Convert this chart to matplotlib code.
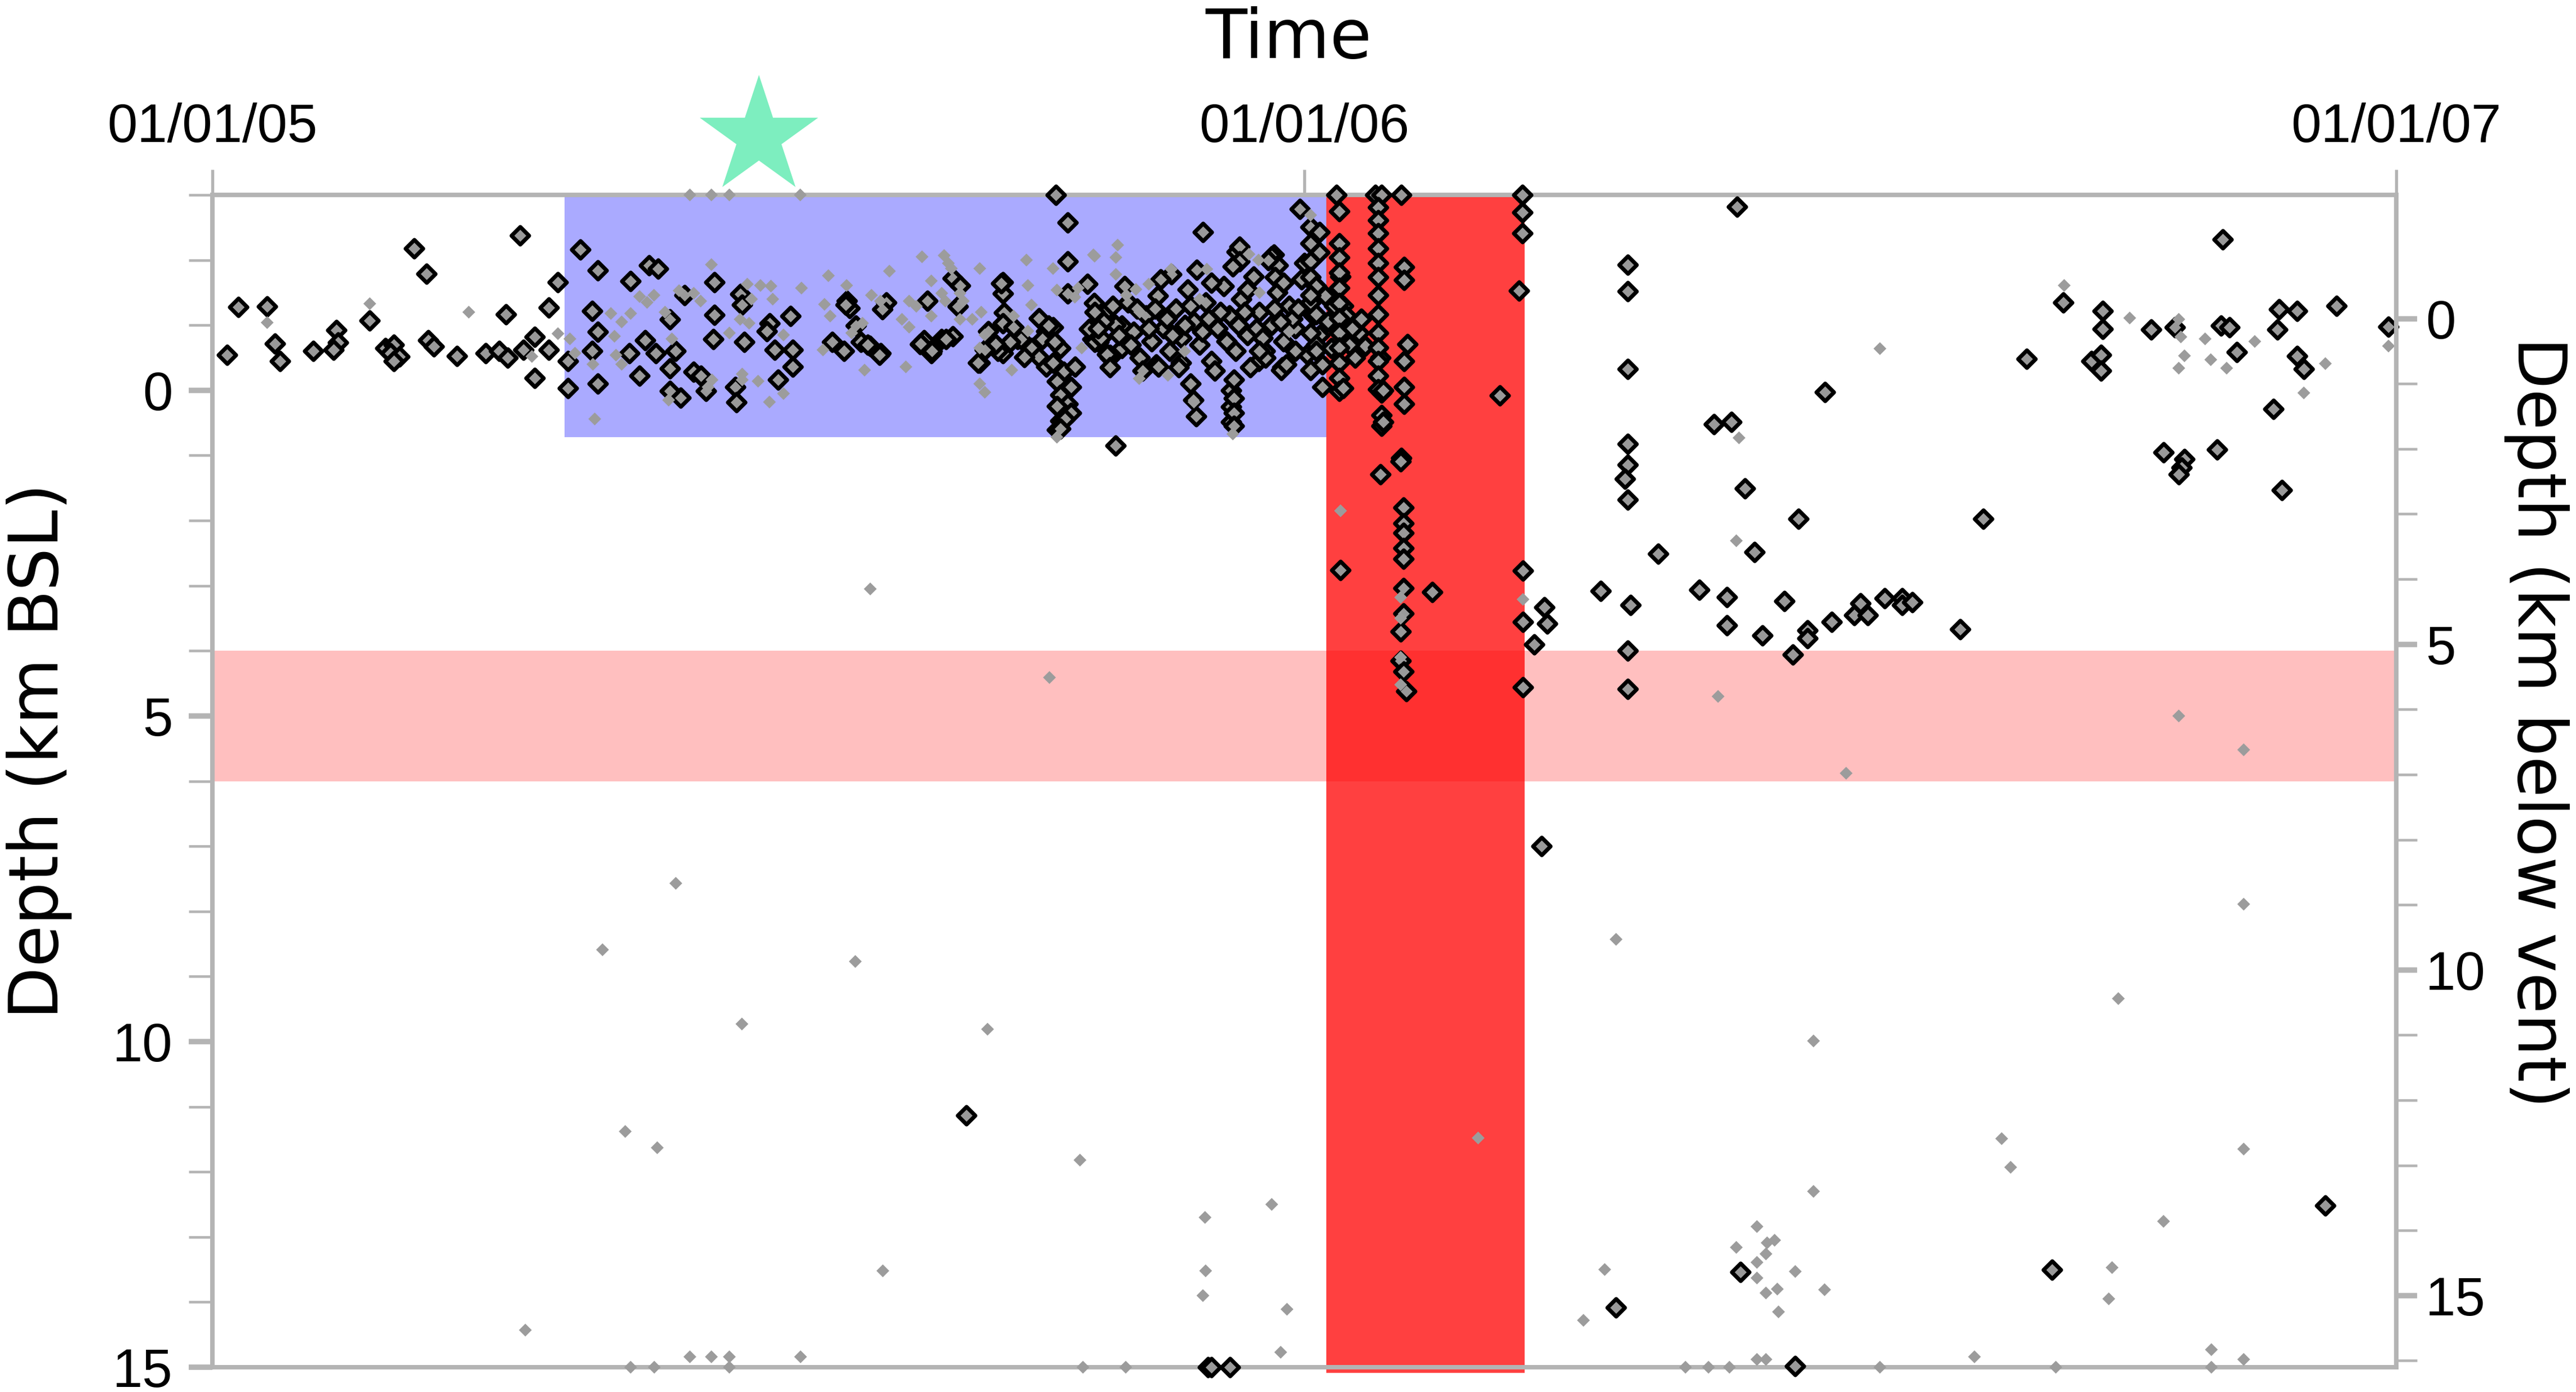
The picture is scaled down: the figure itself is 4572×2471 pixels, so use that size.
import numpy as np
import matplotlib
matplotlib.use("Agg")
import matplotlib.pyplot as plt
from matplotlib.ticker import FixedLocator, NullLocator

# ---------------- data (days since 01/01/05, depth km BSL) ----------------
START = np.datetime64("2005-01-01T00:00")
X_END_DAYS = 730
VENT_OFFSET = 1.1          # km: depth below vent = depth BSL + offset
TIME_TICKS = ["2005-01-01", "2006-01-01", "2007-01-01"]
TIME_TICK_LABELS = ["01/01/05", "01/01/06", "01/01/07"]
DEPTH_TICKS = [0, 5, 10, 15]
VENT_TICKS = [0, 5, 10, 15]

blue_period = (117.8, 372.4)     # days
blue_depth = (-3.0, 0.72)
red_period = (372.4, 438.7)      # days
red_depth = (-3.0, 15.09)
pink_depth = (4.0, 6.0)
star_event = (182.7, -3.89)

large_pre = [(4.9,-0.54),(8.7,-1.28),(18.3,-1.29),(20.9,-0.72),(22.6,-0.45),(33.7,-0.60),
    (41.5,-0.92),(42.0,-0.73),(40.5,-0.62),(52.6,-1.07),(67.4,-2.18),(71.6,-1.79),(57.8,-0.65),
    (60.7,-0.70),(59.5,-0.57),(62.6,-0.52),(60.7,-0.45),(72.2,-0.77),(74.1,-0.67),(81.8,-0.53),
    (91.4,-0.57),(95.9,-0.60),(98.6,-0.50),(98.2,-1.17),(102.9,-2.38),(104.0,-0.62),(107.8,-0.82),
    (107.8,-0.19),(112.5,-1.27),(112.5,-0.62),(115.5,-1.66)]

large_blue = [(118.9,-0.03),(118.9,-0.45),(122.9,-2.16),(128.9,-1.84),(127.0,-1.22),(128.9,-0.90),
    (127.0,-0.60),(128.9,-0.10),(139.8,-1.68),(145.9,-1.92),(148.9,-1.87),(157.9,-1.46),(167.9,-1.66),
    (167.9,-1.16),(153.0,-1.09),(144.7,-0.77),(139.3,-0.57),(142.8,-0.22),(153.0,-0.34),(156.6,0.11),
    (153.0,0.01),(160.9,-0.28),(163.2,-0.22),(165.0,0.01),(167.5,-0.79),(148.3,-0.57),(154.9,-0.60),
    (176.4,-1.48),(177.1,-1.31),(177.7,-0.74),(174.7,-0.05),(175.2,0.18),(186.2,-1.03),(185.4,-0.91),
    (193.3,-1.14),(193.9,-0.62),(193.9,-0.36),(189.0,-0.16),(187.9,-0.62),(207.1,-0.74),(211.2,-0.60),
    (212.0,-1.37),(213.1,-1.26),(216.7,-0.74),(219.7,-0.68),(223.3,-0.57),(225.2,-1.35),(223.9,-1.24),
    (237.8,-0.77),(236.5,-0.71),(240.3,-0.57),(243.8,-0.79),(247.4,-0.83),(239.0,-1.37),(247.4,-1.72),
    (249.9,-1.61),(249.1,-1.29),(256.5,-0.42),(264.2,-1.66),(264.2,-1.49),(264.2,-0.57),(269.1,-0.79),
    (276.3,-1.11),(278.7,-0.91),(285.9,-1.98),(285.9,-2.58),(281.9,-3.0),(285.9,-1.49),(292.5,-1.63),
    (294.2,-0.79),(211.6,-1.31),(215.0,-0.99),(219.0,-0.70),(223.0,-0.54),(236.7,-0.72),(240.5,-0.60),
    (245.3,-0.79),(255.9,-0.42),(263.6,-1.64),(262.5,-0.60),(264.6,-1.19)]

large_cluster = [(259.4,-0.91),(264.2,-1.03),(267.8,-0.97),(270.2,-0.79),(273.8,-0.65),(276.3,-0.51),
    (278.7,-0.36),(271.4,-0.51),(266.6,-0.74),(261.7,-0.71),(258.2,-0.62),(277.4,-0.79),(281.0,-0.97),
    (283.4,-0.65),(281.0,-0.42),(284.5,-0.28),(282.3,-0.14),(287.0,-0.05),(283.4,0.07),(285.9,0.21),
    (282.3,0.24),(287.0,0.35),(283.4,0.47),(282.3,0.61),(288.3,-0.36),(279.5,-0.99),(281.5,-0.74),
    (285.0,0.44),(283.5,0.59),(296.2,-0.74),(300.0,-0.50),(304.0,-0.99),(315.4,-0.40),(327.0,-0.10),
    (327.9,0.15),(328.8,0.40),(340.5,0.0),(340.5,0.25),(340.5,0.49),(342.4,-2.13),(354.8,-2.08),
    (357.6,-0.35),(363.5,-2.78),(378.9,-0.99),(390.4,-0.50),(331.1,-2.43),(302.0,0.85),(294.7,-1.34),
    (298.0,-1.17),(293.0,-0.94),(295.0,-0.74),(300.0,-0.54),(316.2,-0.36),(323.7,-0.42),(357.3,-0.31),
    (341.5,-0.16),(341.5,0.12),(341.5,0.35),(341.5,0.55),(349.7,-0.45),(351.8,-0.60),(354.0,-2.06),
    (356.2,-1.92),(355.2,-1.74),(343.3,-2.20),(343.3,-1.98),(320.5,-1.78),(383.3,-0.88),(385.4,-0.68)]

large_blob = [(295,-1.2),(297,-0.8),(299,-0.55),(302,-1.0),(304,-0.65),(306,-1.35),(308,-0.9),(310,-0.5),
    (312,-1.15),(314,-0.75),(316,-1.45),(318,-0.95),(320,-0.6),(322,-1.25),(324,-0.8),(326,-1.55),
    (328,-1.05),(330,-0.7),(332,-1.35),(334,-0.45),(336,-0.95),(338,-1.6),(340,-1.15),(342,-0.6),
    (344,-1.4),(346,-0.85),(348,-1.75),(350,-1.2),(352,-0.5),(354,-1.0),(356,-1.5),(358,-0.75),
    (360,-1.3),(362,-0.95),(364,-1.7),(366,-0.55),(368,-1.15),(370,-0.85),(372,-1.45),(374,-0.65),
    (376,-1.0),(378,-1.3),(380,-0.7),(382,-0.5),(384,-1.1),(300,-0.35),(305,-1.6),(311,-0.3),
    (317,-1.7),(323,-0.35),(329,-1.85),(335,-0.3),(341,-1.9),(347,-0.35),(353,-2.0),(359,-0.4),
    (365,-1.95),(371,-0.4),(377,-1.75),(298,-1.05),(303,-0.85),(309,-1.25),(313,-0.95),(319,-1.1),
    (325,-1.0),(331,-0.9),(337,-1.2),(343,-1.0),(349,-0.95),(355,-1.25),(361,-1.1),(367,-1.35),
    (373,-1.05),(379,-1.15),(296,-0.95),(301,-1.3),(307,-0.7),(315,-1.25),(321,-0.85),(327,-1.3),
    (333,-1.1),(339,-0.75),(345,-1.2),(351,-0.8),(357,-1.05),(363,-1.25),(369,-0.7),(375,-1.3),
    (381,-0.95),(358,-1.65),(346,-1.55),(334,-1.65),(362,-0.6),(350,-0.6)]

large_eruption = [(375.7,-3.0),(376.7,-2.75),(388.8,-3.0),(390.8,-3.0),(397.4,-3.0),(437.9,-3.0),
    (437.9,-2.73),(437.9,-2.41),(436.8,-1.53),(430.4,0.08),
    (389.7,-2.81),(389.7,-2.61),(389.7,-2.41),(389.7,-2.18),(389.7,-1.95),(389.7,-1.74),(389.7,-1.46),
    (389.7,-1.17),(389.7,-0.88),(389.7,-0.66),(389.7,-0.45),(389.7,-0.22),(389.7,-0.02),(390.8,0.04),
    (390.8,0.38),(390.8,0.55),(391.4,0.0),(391.4,0.49),(398.4,-1.89),(398.4,-1.69),(399.5,-0.71),
    (398.4,-0.45),(398.4,-0.05),(398.4,0.21),(397.4,1.04),
    (376.7,-2.26),(376.7,-2.04),(376.7,-1.81),(376.7,-1.57),(376.7,-1.34),(376.7,-1.11),(376.7,-0.88),
    (376.7,-0.66),(376.7,-0.42),(376.7,-0.19),(376.7,0.01),(378.0,-0.03),
    (367,-2.51),(370,-2.43),(367,-2.26),(370,-2.12),(367,-1.98),(367,-1.74),(369,-1.60),(367,-1.46),
    (369,-1.17),(367,-0.88),(369,-0.60),(367,-0.31),(371,-0.05),
    (397.2,1.09),(390.5,1.29),(398.2,1.80),(398.2,2.04),(398.2,2.19),(398.2,2.42),(398.2,2.59),
    (377.1,2.76),(438.1,2.77),(398.2,3.04),(407.8,3.10),(398.2,3.43),(397.2,3.70),(438.1,3.56),
    (445.3,3.33),(446.2,3.58),(441.9,3.90),(397.2,4.15),(398.2,4.32),(399.1,4.62),(438.1,4.56),
    (444.3,7.0)]

large_post = [(473.2,-1.93),(473.2,-1.52),(473.2,-0.33),(473.2,0.82),(473.2,1.14),(472.2,1.36),
    (473.2,1.68),(502.0,0.52),(507.7,0.49),(509.7,-2.82),(483.2,2.51),(464.1,3.08),(474.1,3.30),
    (473.2,4.0),(473.2,4.59),(497.1,3.06),(506.2,3.18),(506.2,3.61),(530.1,1.97),(591.9,1.97),
    (515.4,2.48),(525.4,3.24),(518.2,3.76),(528.2,4.06),(533.1,3.69),(533.1,3.81),(541.2,3.56),
    (548.9,3.45),(550.8,3.27),(553.3,3.45),(558.9,3.19),(564.9,3.19),(564.9,3.30),(568.3,3.25),
    (584.3,3.67),(672.0,-2.32),(618.6,-1.35),(631.8,-1.22),(631.8,-0.94),(648.0,-0.93),(656.0,-0.97),
    (671.4,-0.99),(674.2,-0.97),(690.3,-0.93),(690.8,-1.24),(696.9,-1.22),(710.0,-1.30),(727.4,-0.98),
    (676.7,-0.59),(606.4,-0.48),(628.1,-0.45),(631.3,-0.54),(631.3,-0.30),(696.9,-0.53),(699.1,-0.33),
    (539.1,0.03),(688.9,0.29),(652.2,0.95),(659.2,1.06),(658.2,1.19),(657.3,1.29),(670.1,0.91),
    (512.2,1.51),(691.8,1.53)]

large_deep = [(252.0,11.13),(332.8,15.0),(334.0,15.0),(340.1,15.0),(469.2,14.08),(510.7,13.54),
    (614.9,13.5),(706.3,12.52),(529.1,14.98)]

small_shallow = [(18.3,-1.04),(52.6,-1.33),(85.7,-1.20),(115.5,-0.87),(106.8,-0.52),
    (159.6,-3.0),(166.8,-3.0),(172.8,-3.0),(196.5,-3.0),
    (127.8,0.44),(166.8,-1.93),(142.8,-1.44),(147.6,-1.46),(145.3,-1.35),(156.0,-1.53),(160.9,-1.49),
    (163.2,-1.37),(133.2,-1.18),(139.8,-1.18),(136.8,-1.05),(119.5,-0.79),(121.2,-0.57),(127.2,-0.40),
    (134.4,-0.83),(134.9,-0.54),(136.8,-0.40),(151.3,-1.20),(153.6,-0.79),(152.5,0.15),(167.0,-0.16),
    (165.7,-0.05),(172.8,-0.88),(178.8,-1.63),(183.2,-1.61),(186.7,-1.60),(180.2,-1.40),(187.3,-1.40),
    (176.4,-1.09),(179.4,-1.03),(177.1,-0.25),(177.1,-0.16),(182.4,-0.14),(186.2,0.18),(190.9,0.05),
    (196.9,-1.57),(190.9,-0.85),(205.9,-1.76),(212.0,-1.61),(204.6,-1.32),(206.5,-1.14),(204.1,-0.62),
    (213.7,-0.88),(217.3,-1.03),(220.3,-1.46),(223.3,-1.37),(218.0,-0.31),(226.3,-1.83),(231.8,-0.36),
    (230.5,-1.09),(232.9,-0.97),(237.2,-2.05),(240.3,-1.68),(244.6,-2.07),(246.0,-1.95),(247.0,-1.87),
    (232.9,-1.37),(235.3,-1.29),(240.3,-1.14),(243.8,-1.49),(245.0,-1.37),(249.9,-1.49),(251.0,-1.37),
    (249.9,-1.09),(256.5,-1.87),(254.0,-1.09),(257.0,-1.20),(258.2,-0.85),(256.5,-0.65),(256.5,-0.10),
    (258.2,0.03),(267.2,-0.31),(272.1,-2.00),(272.6,-1.61),(281.0,-1.87),(282.3,-1.54),(267.8,-1.14),
    (273.8,-1.31),(272.6,-0.91),(288.3,-1.43),(289.4,-1.57),(294.9,-2.06),(290.6,-0.65),(282.3,0.72),
    (302.6,-2.23),(294.5,-2.08),(302.0,-2.04),(302.0,-1.78),(309.8,-0.18),(319.4,-0.23),(320.5,-1.86),
    (332.4,-1.86),(346.5,-2.09),(349.7,-2.0),(313.0,-1.63),(308.7,-1.55),(305.5,-1.46),(341.1,0.67),
    (328.1,0.18),(367.1,-2.69),(310.0,-1.2),(330.0,-1.4),(350.0,-1.5),(360.0,-0.9),(325.0,-0.6),
    (619.0,-1.61),(640.9,-1.11),(657.3,-1.09),(658.0,-0.82),(659.2,-0.53),(657.3,-0.34),(666.1,-0.79),
    (668.0,-0.47),(673.3,-0.34),(682.7,-0.75),(706.3,-0.41),(699.1,0.04),(727.4,-0.68),(557.4,-0.64),
    (510.3,0.73)]

small_mid = [(219.9,3.05),(279.8,4.41),(377.1,1.85),(397.2,3.18),(397.2,3.50),(397.2,4.1),(397.2,4.52),
    (438.1,3.21),(469.2,8.43),(509.4,2.31),(503.3,4.70),(546.1,5.88),(657.3,5.0),(679.0,5.52),
    (679.0,7.89),(637.1,9.34),(214.9,8.77),(177.0,9.73),(154.9,7.57),(130.4,8.59),(259.1,9.81),
    (535.2,9.99)]

small_deep = [(138.0,11.38),(148.7,11.63),(224.1,13.52),(104.6,14.43),(139.8,15.0),(147.7,15.0),
    (159.6,14.84),(166.8,14.84),(172.8,14.84),(172.8,15.0),(196.6,14.84),(290.0,11.82),(354.1,12.5),
    (331.8,12.70),(332.0,13.52),(331.1,13.90),(359.2,14.11),(357.1,14.77),(423.1,11.48),(458.3,14.28),
    (465.4,13.50),(509.4,13.16),(291.0,15.0),(305.3,15.0),(492.4,15.0),(500.1,15.0),(507.1,15.0),
    (598.1,11.49),(601.1,11.93),(679.0,11.65),(535.2,12.3),(652.2,12.76),(516.3,12.84),(519.7,13.09),
    (522.2,13.05),(519.3,13.26),(516.3,13.39),(516.3,13.63),(523.1,13.80),(519.3,13.86),(523.5,14.15),
    (529.1,13.53),(538.9,13.81),(635.0,13.47),(633.9,13.95),(589.0,14.84),(668.2,14.73),(679.0,14.88),
    (516.3,14.88),(519.3,14.88),(557.4,15.0),(616.2,15.0),(668.2,15.0)]

# ---------------- helpers ----------------
def to_time(days):
    days = np.atleast_1d(np.asarray(days, dtype=float))
    return START + np.round(days * 1440).astype("timedelta64[m]")

def split(groups):
    arr = np.array([p for g in groups for p in g], dtype=float)
    return to_time(arr[:, 0]), arr[:, 1]

large_t, large_z = split([large_pre, large_blue, large_cluster, large_blob, large_eruption,
                          large_post, large_deep])
small_t, small_z = split([small_shallow, small_mid, small_deep])

GRAY = "#b4b4b4"
W, H = 4572, 2471
fig = plt.figure(figsize=(W / 300, H / 300), dpi=300)
ax = fig.add_axes([377 / W, 44 / H, 3876 / W, 2081 / H])
ax.set_xlim(to_time(0)[0], to_time(X_END_DAYS)[0])
ax.set_ylim(15, -3)

# shaded regions
ax.axhspan(*pink_depth, color="red", alpha=0.25, lw=0, zorder=1)
ax.fill_betweenx(list(red_depth), to_time(red_period[0])[0], to_time(red_period[1])[0],
                 color="red", alpha=0.75, lw=0, zorder=1.2, clip_on=False)
ax.fill_betweenx(list(blue_depth), to_time(blue_period[0])[0], to_time(blue_period[1])[0],
                 color="blue", alpha=1 / 3, lw=0, zorder=1.1)

# earthquakes
ax.scatter(large_t, large_z, s=28, marker="D", facecolor="#999999", edgecolor="black",
           linewidths=1.7, clip_on=False, zorder=3)
ax.scatter(small_t, small_z, s=15, marker="D", facecolor="#9c9c9c", edgecolor="none",
           clip_on=False, zorder=4)

# star
ax.plot(to_time(star_event[0]), [star_event[1]], marker="*", ms=53, color="#7DEEBF",
        mec="none", ls="none", clip_on=False, zorder=5)

# spines
for side in ["left", "top", "bottom"]:
    ax.spines[side].set_color(GRAY)
    ax.spines[side].set_linewidth(1.9)
ax.spines["right"].set_visible(False)

# x axis on top
ax.xaxis.tick_top()
ax.set_xticks([np.datetime64(t) for t in TIME_TICKS], labels=TIME_TICK_LABELS)
ax.xaxis.set_minor_locator(NullLocator())
ax.tick_params(axis="x", which="major", direction="out", length=10.8, width=1.3, color=GRAY,
               pad=7, labelsize=23, labelfontfamily="Liberation Sans")

# left y axis
ax.yaxis.set_major_locator(FixedLocator(DEPTH_TICKS))
ax.yaxis.set_minor_locator(FixedLocator([v for v in range(-3, 16) if v not in DEPTH_TICKS]))
ax.tick_params(axis="y", which="major", direction="out", length=10, width=2.3, color=GRAY,
               pad=7, labelsize=23, labelfontfamily="Liberation Sans")
ax.tick_params(axis="y", which="minor", direction="out", length=10, width=1.1, color=GRAY)

# right y axis (below vent)
ax2 = ax.twinx()
ax2.set_ylim(15 + VENT_OFFSET, -3 + VENT_OFFSET)
ax2.yaxis.set_major_locator(FixedLocator(VENT_TICKS))
ax2.yaxis.set_minor_locator(FixedLocator([v for v in range(0, 17) if v not in VENT_TICKS]))
ax2.tick_params(axis="y", which="major", direction="out", length=8.9, width=2.3, color=GRAY,
                pad=3.6, labelsize=23, labelfontfamily="Liberation Sans")
ax2.tick_params(axis="y", which="minor", direction="out", length=8.9, width=1.1, color=GRAY)
for side in ["left", "top", "bottom"]:
    ax2.spines[side].set_visible(False)
ax2.spines["right"].set_color(GRAY)
ax2.spines["right"].set_linewidth(1.9)

# axis titles
fig.text(2287 / W, 1 - 103 / H, "Time", ha="center", va="baseline", fontsize=29,
         family="DejaVu Sans")
fig.text(70 / W, 1 - 1333 / H, "Depth (km BSL)", rotation=90, ha="center", va="center",
         fontsize=29, family="DejaVu Sans")
fig.text(4502 / W, 1 - 1282 / H, "Depth (km below vent)", rotation=270, ha="center",
         va="center", fontsize=28.5, family="DejaVu Sans")

fig.savefig("out.png", dpi=300)
